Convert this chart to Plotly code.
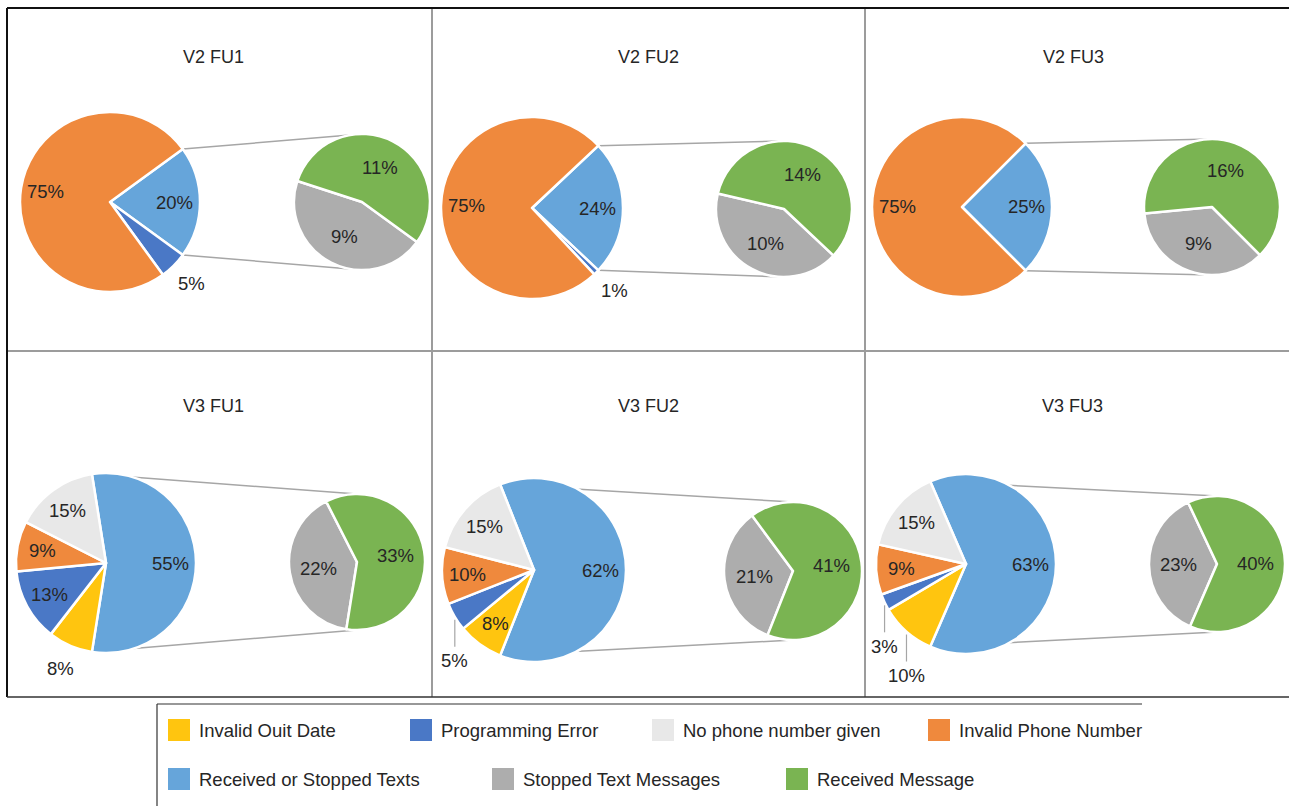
import math
import plotly.graph_objects as go

W, H = 1289, 806

# ---------------- data ----------------
categories = ["Invalid Ouit Date", "Programming Error", "No phone number given",
              "Invalid Phone Number", "Received or Stopped Texts",
              "Stopped Text Messages", "Received Message"]
panel_titles = ["V2 FU1", "V2 FU2", "V2 FU3", "V3 FU1", "V3 FU2", "V3 FU3"]

# main pie (percent of total)
received_or_stopped = [20, 24, 25, 55, 62, 63]
invalid_quit_date = [0, 0, 0, 8, 8, 10]
programming_error = [5, 1, 0, 13, 5, 3]
invalid_phone = [75, 75, 75, 9, 10, 9]
no_phone = [0, 0, 0, 15, 15, 15]
# secondary pie (breakdown of "Received or Stopped Texts")
stopped_text = [9, 10, 9, 22, 21, 23]
received_message = [11, 14, 16, 33, 41, 40]

# ---------------- styles / layout ----------------
colors = {
    "Invalid Ouit Date": "#FFC50F",
    "Programming Error": "#4A78C6",
    "No phone number given": "#E8E8E8",
    "Invalid Phone Number": "#EF893D",
    "Received or Stopped Texts": "#66A5DA",
    "Stopped Text Messages": "#ADADAD",
    "Received Message": "#7AB452",
}
FONT = "Liberation Sans, Arial, Helvetica, sans-serif"
TXT = "#262626"

# (cx, cy, r) in pixels for main pie and secondary pie, title position
panel_geo = [
    dict(main=(110, 202, 90), sec=(362, 202, 68), title=(213, 57)),
    dict(main=(532, 208, 91), sec=(784, 209, 68), title=(649, 57)),
    dict(main=(962, 207, 90), sec=(1212, 207, 68), title=(1073, 57)),
    dict(main=(106, 563, 90), sec=(357, 562, 68), title=(213, 406)),
    dict(main=(534, 570, 92), sec=(793, 571, 69), title=(649, 406)),
    dict(main=(966, 564, 90), sec=(1217, 564, 68), title=(1072, 406)),
]
# label placement overrides (default: inside)
label_mode = [
    {"Programming Error": "out"},
    {"Programming Error": "out"},
    {},
    {"Invalid Ouit Date": "out"},
    {"Programming Error": "lead"},
    {"Programming Error": "lead", "Invalid Ouit Date": "lead"},
]
legend_pos = [(168, 730), (410, 730), (652, 730), (928, 730),
              (168, 779), (492, 779), (786, 779)]


def px(x):
    return x / W


def py(y):
    return 1 - y / H


fig = go.Figure()
shapes = []
annotations = []


def add_label(x, y, text, size=18.5):
    annotations.append(dict(x=px(x), y=py(y), xref="paper", yref="paper",
                            text=text, showarrow=False, xanchor="center",
                            yanchor="middle",
                            font=dict(family=FONT, size=size, color=TXT)))


def line(x0, y0, x1, y1, color, width, layer="above"):
    shapes.append(dict(type="line", xref="paper", yref="paper",
                       x0=px(x0), y0=py(y0), x1=px(x1), y1=py(y1),
                       line=dict(color=color, width=width), layer=layer))


for i, title in enumerate(panel_titles):
    g = panel_geo[i]
    cx, cy, r = g["main"]
    sx, sy, r2 = g["sec"]

    # main pie, clockwise starting with aggregated slice centred on 3 o'clock
    main_cats = ["Received or Stopped Texts", "Invalid Ouit Date", "Programming Error",
                 "Invalid Phone Number", "No phone number given"]
    main_vals = [received_or_stopped[i], invalid_quit_date[i], programming_error[i],
                 invalid_phone[i], no_phone[i]]
    cats = [c for c, v in zip(main_cats, main_vals) if v > 0]
    vals = [v for v in main_vals if v > 0]
    total = sum(vals)
    h = 180.0 * received_or_stopped[i] / total  # half-angle of aggregated slice

    fig.add_trace(go.Pie(
        labels=cats, values=vals, sort=False, direction="clockwise",
        rotation=90 - h, textinfo="none", hoverinfo="label+value",
        marker=dict(colors=[colors[c] for c in cats], line=dict(color="white", width=2.5)),
        domain=dict(x=[px(cx - r), px(cx + r)], y=[py(cy + r), py(cy - r)]),
        showlegend=False,
    ))

    # labels for main pie
    start = h
    for c, v in zip(cats, vals):
        span = 360.0 * v / total
        mid = math.radians(start - span / 2)
        start -= span
        mode = label_mode[i].get(c, "in")
        if mode == "in":
            k = 0.72
            add_label(cx + k * r * math.cos(mid), cy - k * r * math.sin(mid), f"{v}%")
        elif mode == "out":
            k = 1.28
            add_label(cx + k * r * math.cos(mid), cy - k * r * math.sin(mid), f"{v}%")
        else:
            ex = cx + r * math.cos(mid)
            ey = cy - r * math.sin(mid)
            line(ex, ey + 3, ex, ey + 30, "#A6A6A6", 1.2)
            add_label(ex, ey + 44, f"{v}%")

    # secondary pie: gray then green, clockwise from the lower edge angle (-h)
    sec_cats = ["Stopped Text Messages", "Received Message"]
    sec_vals = [stopped_text[i], received_message[i]]
    stot = sum(sec_vals)
    fig.add_trace(go.Pie(
        labels=sec_cats, values=sec_vals, sort=False, direction="clockwise",
        rotation=90 + h, textinfo="none", hoverinfo="label+value",
        marker=dict(colors=[colors[c] for c in sec_cats], line=dict(color="white", width=2.5)),
        domain=dict(x=[px(sx - r2), px(sx + r2)], y=[py(sy + r2), py(sy - r2)]),
        showlegend=False,
    ))
    start = -h
    for c, v in zip(sec_cats, sec_vals):
        span = 360.0 * v / stot
        mid = math.radians(start - span / 2)
        start -= span
        k = 0.57
        add_label(sx + k * r2 * math.cos(mid), sy - k * r2 * math.sin(mid), f"{v}%")

    # connector lines
    ux, uy = cx + r * math.cos(math.radians(h)), cy - r * math.sin(math.radians(h))
    lx, ly = ux, cy + r * math.sin(math.radians(h))
    line(ux, uy, sx, sy - r2, "#A6A6A6", 1.5, layer="below")
    line(lx, ly, sx, sy + r2, "#A6A6A6", 1.5, layer="below")

    tx, ty = g["title"]
    add_label(tx, ty, title, size=18)

# frame and dividers
line(432, 8, 432, 697, "#9C9C9C", 2)
line(865, 8, 865, 697, "#9C9C9C", 2)
line(7, 351, W, 351, "#9C9C9C", 2)
line(7, 8, W, 8, "#111111", 2)
line(7, 8, 7, 697, "#111111", 2)
line(7, 697, W, 697, "#333333", 1.5)
# legend box
line(157, 704, 1142, 704, "#333333", 1.2)
line(157, 704, 157, H, "#333333", 1.2)

# legend
for c, (lx, ly) in zip(categories, legend_pos):
    shapes.append(dict(type="rect", xref="paper", yref="paper",
                       x0=px(lx), x1=px(lx + 22), y0=py(ly + 11), y1=py(ly - 11),
                       fillcolor=colors[c], line=dict(width=0)))
    annotations.append(dict(x=px(lx + 29), y=py(ly), xref="paper", yref="paper",
                            text=c, showarrow=False, xanchor="left", yanchor="middle",
                            font=dict(family=FONT, size=18.5, color=TXT)))

fig.update_layout(
    width=W, height=H, margin=dict(l=0, r=0, t=0, b=0),
    paper_bgcolor="white", plot_bgcolor="white",
    shapes=shapes, annotations=annotations, showlegend=False,
)

fig.write_html("out.html", config={"displayModeBar": False},
               post_script="document.body.style.margin='0';document.body.style.overflow='hidden';")
